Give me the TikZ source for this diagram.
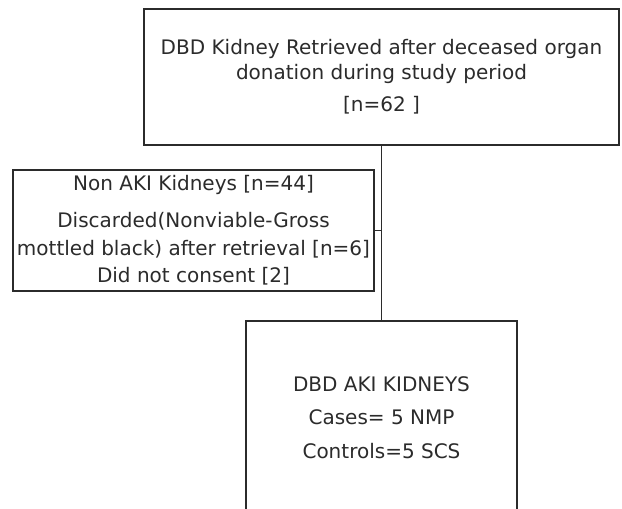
\documentclass[tikz,border=0pt]{standalone}
\usepackage{fontspec}
\setmainfont{DejaVu Sans}
\usetikzlibrary{positioning}
\definecolor{inkgray}{HTML}{2B2B2B}
\tikzset{
  flowbox/.style={draw=inkgray, line width=1.2pt, text=inkgray, align=center,
    font=\fontsize{20}{25}\selectfont, inner sep=0pt},
  link/.style={draw=inkgray, line width=1pt}
}
\begin{document}
\begin{tikzpicture}[x=1pt, y=-1pt]
\useasboundingbox (0,0) rectangle (622,509);
\clip (0,0) rectangle (622,509);

% retrieved
\node[flowbox, minimum width=475pt, minimum height=136pt] (retrieved) at (381.5,77)
{DBD Kidney Retrieved after deceased organ\\donation during study period\\[7pt][n=62 ]};

% excluded
\node[flowbox, minimum width=361pt, minimum height=121pt] (excluded) at (193.5,230.5)
{Non AKI Kidneys [n=44]\\[12pt]Discarded(Nonviable-Gross\\[3pt]mottled black) after retrieval [n=6]\\[2pt]Did not consent [2]};

% aki
\node[flowbox, minimum width=271pt, minimum height=194pt] (aki) at (381.5,418)
{DBD AKI KIDNEYS\\[8pt]Cases= 5 NMP\\[9pt]Controls=5 SCS};

% links
\coordinate (split) at (retrieved.south |- excluded.east);
\draw[link] (retrieved.south) -- (split);
\draw[link] (excluded.east) -- (split);
\draw[link] (split) -- (aki.north);
\end{tikzpicture}
\end{document}
